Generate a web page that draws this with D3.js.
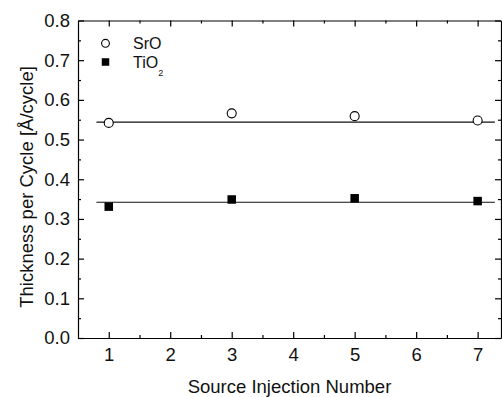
<!DOCTYPE html>
<html>
<head>
<meta charset="utf-8">
<script src="https://cdn.jsdelivr.net/npm/d3@7"></script>
<style>
  body { margin: 0; background: #fff; }
  svg { display: block; font-family: Arial, "Liberation Sans", sans-serif; }
</style>
</head>
<body>
<svg id="chart" width="502" height="397"></svg>
<script>
// data
var injections = [1, 3, 5, 7];
var sroValues = [0.542, 0.566, 0.559, 0.548];
var tio2Values = [0.331, 0.349, 0.352, 0.345];
var sroFit = 0.544;
var tio2Fit = 0.342;
var xTicks = [1, 2, 3, 4, 5, 6, 7];
var yTicks = [0.0, 0.1, 0.2, 0.3, 0.4, 0.5, 0.6, 0.7, 0.8];

var svg = d3.select("#chart");
var margin = { top: 20.5, right: 1, bottom: 59, left: 78 };
var width = 502;
var height = 397;

var x = d3.scaleLinear().domain([0.5, 7.38]).range([margin.left, width - margin.right]);
var y = d3.scaleLinear().domain([0, 0.8]).range([height - margin.bottom, margin.top]);

var majorLen = 6;
var minorLen = 3;

// axes, ticks drawn inward
var xMinor = d3.range(1.5, 7.4, 1);
var yMinor = d3.range(0.05, 0.8, 0.1);

function drawAxis(scale, orient, majors, minors, pos, labels, pad) {
  var ax = orient(scale).tickValues(majors).tickSizeOuter(0).tickSizeInner(-majorLen).tickPadding(pad);
  if (labels) ax.tickFormat(labels);
  else ax.tickFormat("");
  var g = svg.append("g").attr("transform", pos).call(ax);
  var ax2 = orient(scale).tickValues(minors).tickSizeOuter(0).tickSizeInner(-minorLen).tickFormat("");
  svg.append("g").attr("transform", pos).call(ax2).select(".domain").remove();
  g.selectAll("line, path").attr("stroke", "#000").attr("stroke-width", 1.2);
  svg.selectAll(".tick line").attr("stroke", "#000").attr("stroke-width", 1.2);
  g.selectAll("text").attr("fill", "#111").style("font-size", "18.5px");
  return g;
}

drawAxis(x, d3.axisBottom, xTicks, xMinor, "translate(0," + y(0) + ")", d3.format("d"), 10);
drawAxis(x, d3.axisTop, xTicks, xMinor, "translate(0," + y(0.8) + ")", null, 0);
drawAxis(y, d3.axisLeft, yTicks, yMinor, "translate(" + x(0.5) + ",0)", d3.format(".1f"), 8);
drawAxis(y, d3.axisRight, yTicks, yMinor, "translate(" + x(7.38) + ",0)", null, 0);

// fit lines
var fitX = [0.8, 7.28];
[sroFit, tio2Fit].forEach(function (v) {
  svg.append("line")
    .attr("x1", x(fitX[0])).attr("x2", x(fitX[1]))
    .attr("y1", y(v)).attr("y2", y(v))
    .attr("stroke", "#111").attr("stroke-width", 1.2);
});

// SrO points
svg.append("g").selectAll("circle")
  .data(injections.map(function (d, i) { return [d, sroValues[i]]; }))
  .join("circle")
  .attr("cx", function (d) { return x(d[0]); })
  .attr("cy", function (d) { return y(d[1]); })
  .attr("r", 4.5)
  .attr("fill", "#fff")
  .attr("stroke", "#000")
  .attr("stroke-width", 1.1);

// TiO2 points
var sq = 8.5;
svg.append("g").selectAll("rect")
  .data(injections.map(function (d, i) { return [d, tio2Values[i]]; }))
  .join("rect")
  .attr("x", function (d) { return x(d[0]) - sq / 2; })
  .attr("y", function (d) { return y(d[1]) - sq / 2; })
  .attr("width", sq)
  .attr("height", sq)
  .attr("fill", "#000");

// legend
var lg = svg.append("g");
var lsq = 7.5;
lg.append("circle").attr("cx", 105.5).attr("cy", 43.3).attr("r", 3.9)
  .attr("fill", "#fff").attr("stroke", "#000").attr("stroke-width", 1.1);
lg.append("rect").attr("x", 105.5 - lsq / 2).attr("y", 62 - lsq / 2).attr("width", lsq).attr("height", lsq).attr("fill", "#000");
lg.append("text").attr("x", 133).attr("y", 48.5).style("font-size", "16px").attr("fill", "#111").text("SrO");
var t2 = lg.append("text").attr("x", 133).attr("y", 67.5).style("font-size", "16px").attr("fill", "#111");
t2.append("tspan").text("TiO");
t2.append("tspan").attr("dy", 8).style("font-size", "9px").text("2");

// axis titles
svg.append("text")
  .attr("x", (x(0.5) + x(7.38)) / 2)
  .attr("y", 392.5)
  .attr("text-anchor", "middle")
  .style("font-size", "18.5px")
  .attr("fill", "#111")
  .text("Source Injection Number");

svg.append("text")
  .attr("transform", "translate(33,187) rotate(-90)")
  .attr("text-anchor", "middle")
  .style("font-size", "18.5px")
  .attr("fill", "#111")
  .text("Thickness per Cycle [Å/cycle]");
</script>
</body>
</html>
